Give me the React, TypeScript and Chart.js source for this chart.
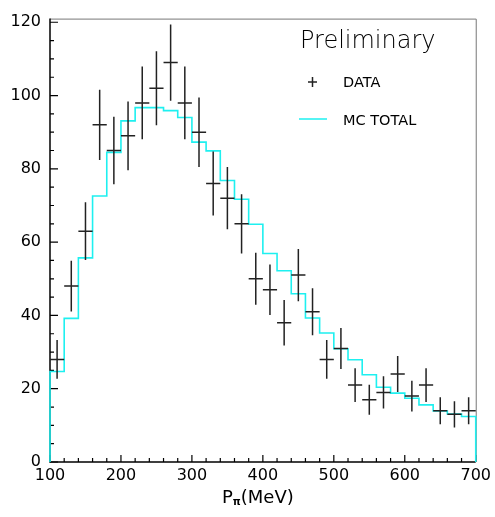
import React, { useEffect, useRef } from "react";
import { Chart, registerables } from "chart.js";

Chart.register(...registerables);

const binEdges = [100, 120, 140, 160, 180, 200, 220, 240, 260, 280, 300, 320, 340, 360, 380, 400, 420, 440, 460, 480, 500, 520, 540, 560, 580, 600, 620, 640, 660, 680, 700];
const mcTotal = [24.7, 39.2, 55.7, 72.6, 84.5, 93.1, 96.7, 96.7, 95.9, 94.0, 87.3, 84.9, 76.8, 71.7, 64.9, 56.9, 52.2, 45.9, 39.3, 35.2, 30.9, 27.9, 23.8, 20.4, 18.8, 17.4, 15.6, 13.9, 13.1, 12.4];
const dataX = [110, 130, 150, 170, 190, 210, 230, 250, 270, 290, 310, 330, 350, 370, 390, 410, 430, 450, 470, 490, 510, 530, 550, 570, 590, 610, 630, 650, 670, 690];
const dataY = [28, 48, 63, 92, 85, 89, 98, 102, 109, 98, 90, 76, 72, 65, 50, 47, 38, 51, 41, 28, 31, 21, 17, 19, 24, 18, 21, 14, 13, 14];
const dataErr = [5.3, 6.9, 7.9, 9.6, 9.2, 9.4, 9.9, 10.1, 10.4, 9.9, 9.5, 8.7, 8.5, 8.1, 7.1, 6.9, 6.2, 7.1, 6.4, 5.3, 5.6, 4.6, 4.1, 4.4, 4.9, 4.2, 4.6, 3.7, 3.6, 3.7];
const xTicks = [100, 200, 300, 400, 500, 600, 700];
const yTicks = [0, 20, 40, 60, 80, 100, 120];

const FONT = "'DejaVu Sans', sans-serif";
const CYAN = "#1ef0f0";
const INK = "#222";

const overlay = {
  id: "overlay",
  beforeDatasetsDraw(chart: any) {
    const { ctx, chartArea: a, scales } = chart;
    const x = scales.x;
    const y = scales.y;
    ctx.save();
    // frame
    ctx.strokeStyle = "#777";
    ctx.lineWidth = 1;
    ctx.beginPath();
    ctx.moveTo(a.left, a.top + 0.5);
    ctx.lineTo(a.right + 0.5, a.top + 0.5);
    ctx.lineTo(a.right + 0.5, a.bottom);
    ctx.stroke();
    ctx.strokeStyle = "#000";
    ctx.lineWidth = 1.5;
    ctx.beginPath();
    ctx.moveTo(a.left, a.top);
    ctx.lineTo(a.left, a.bottom);
    ctx.lineTo(a.right, a.bottom);
    ctx.stroke();
    // ticks
    ctx.lineWidth = 1.2;
    ctx.beginPath();
    for (let v = 0; v <= 120; v += 5) {
      const py = y.getPixelForValue(v);
      const len = v % 20 === 0 ? 8 : 4;
      ctx.moveTo(a.left, py);
      ctx.lineTo(a.left + len, py);
    }
    for (let v = 100; v <= 700; v += 20) {
      const px = x.getPixelForValue(v);
      const len = v % 100 === 0 ? 7 : 4;
      ctx.moveTo(px, a.bottom);
      ctx.lineTo(px, a.bottom - len);
    }
    ctx.stroke();
    ctx.restore();
  },
  afterDatasetsDraw(chart: any) {
    const { ctx, scales } = chart;
    const x = scales.x;
    const y = scales.y;
    ctx.save();
    // data crosses
    ctx.strokeStyle = INK;
    ctx.lineWidth = 1.5;
    dataX.forEach((xv, i) => {
      const half = (binEdges[i + 1] - binEdges[i]) / 2;
      const px = x.getPixelForValue(xv);
      const py = y.getPixelForValue(dataY[i]);
      ctx.beginPath();
      ctx.moveTo(x.getPixelForValue(xv - half), py);
      ctx.lineTo(x.getPixelForValue(xv + half), py);
      ctx.moveTo(px, y.getPixelForValue(dataY[i] + dataErr[i]));
      ctx.lineTo(px, y.getPixelForValue(dataY[i] - dataErr[i]));
      ctx.stroke();
    });
    // legend
    ctx.fillStyle = "#000";
    ctx.textBaseline = "alphabetic";
    ctx.textAlign = "left";
    ctx.font = `200 24px ${FONT}`;
    ctx.fillText("Preliminary", 300, 48);
    ctx.font = `14.5px ${FONT}`;
    ctx.fillText("DATA", 343, 87);
    ctx.fillText("MC TOTAL", 343, 125);
    ctx.strokeStyle = INK;
    ctx.lineWidth = 1.5;
    ctx.beginPath();
    ctx.moveTo(308, 82);
    ctx.lineTo(317, 82);
    ctx.moveTo(312.5, 77);
    ctx.lineTo(312.5, 87);
    ctx.stroke();
    ctx.strokeStyle = CYAN;
    ctx.beginPath();
    ctx.moveTo(299, 119);
    ctx.lineTo(327, 119);
    ctx.stroke();
    // x axis title
    ctx.fillStyle = "#000";
    ctx.font = `18px ${FONT}`;
    let tx = 222;
    const base = 503;
    ctx.fillText("P", tx, base);
    tx += ctx.measureText("P").width;
    ctx.font = `bold 10px ${FONT}`;
    ctx.fillText("π", tx, base + 2);
    tx += ctx.measureText("π").width;
    ctx.font = `18px ${FONT}`;
    ctx.fillText("(MeV)", tx, base);
    ctx.restore();
  },
};

export default function App() {
  const ref = useRef<HTMLCanvasElement>(null);
  useEffect(() => {
    if (!ref.current) return;
    const histPoints: { x: number; y: number }[] = [{ x: binEdges[0], y: 0 }];
    mcTotal.forEach((v, i) => histPoints.push({ x: binEdges[i], y: v }));
    histPoints.push({ x: binEdges[binEdges.length - 1], y: 0 });
    const chart = new Chart(ref.current, {
      type: "line",
      data: {
        datasets: [
          {
            label: "MC TOTAL",
            data: histPoints,
            stepped: "before",
            borderColor: CYAN,
            borderWidth: 1.6,
            pointRadius: 0,
            fill: false,
            clip: false,
          },
          {
            label: "DATA",
            type: "scatter",
            data: dataX.map((xv, i) => ({ x: xv, y: dataY[i] })),
            pointRadius: 0,
            borderColor: INK,
          },
        ],
      } as any,
      options: {
        animation: false,
        responsive: true,
        maintainAspectRatio: false,
        layout: { padding: { top: 7, right: 18, left: 0, bottom: 0 } },
        plugins: { legend: { display: false }, tooltip: { enabled: false } },
        scales: {
          x: {
            type: "linear",
            min: 100,
            max: 700,
            grid: { display: false, drawTicks: false },
            border: { display: false },
            afterBuildTicks: (s: any) => {
              s.ticks = xTicks.map((v) => ({ value: v }));
            },
            afterFit: (s: any) => {
              s.height = 55;
            },
            ticks: {
              autoSkip: false,
              maxRotation: 0,
              padding: 4,
              color: "#000",
              font: { family: FONT, size: 16 },
            },
          },
          y: {
            type: "linear",
            min: 0,
            max: 121,
            grid: { display: false, drawTicks: false },
            border: { display: false },
            afterBuildTicks: (s: any) => {
              s.ticks = yTicks.map((v) => ({ value: v }));
            },
            afterFit: (s: any) => {
              s.width = 50;
            },
            ticks: {
              autoSkip: false,
              padding: 9,
              color: "#000",
              font: { family: FONT, size: 16 },
            },
          },
        },
      } as any,
      plugins: [overlay],
    });
    return () => chart.destroy();
  }, []);
  return (
    <div style={{ position: "fixed", left: 0, top: 0, width: 495, height: 517, background: "#fff" }}>
      <canvas ref={ref} />
    </div>
  );
}
